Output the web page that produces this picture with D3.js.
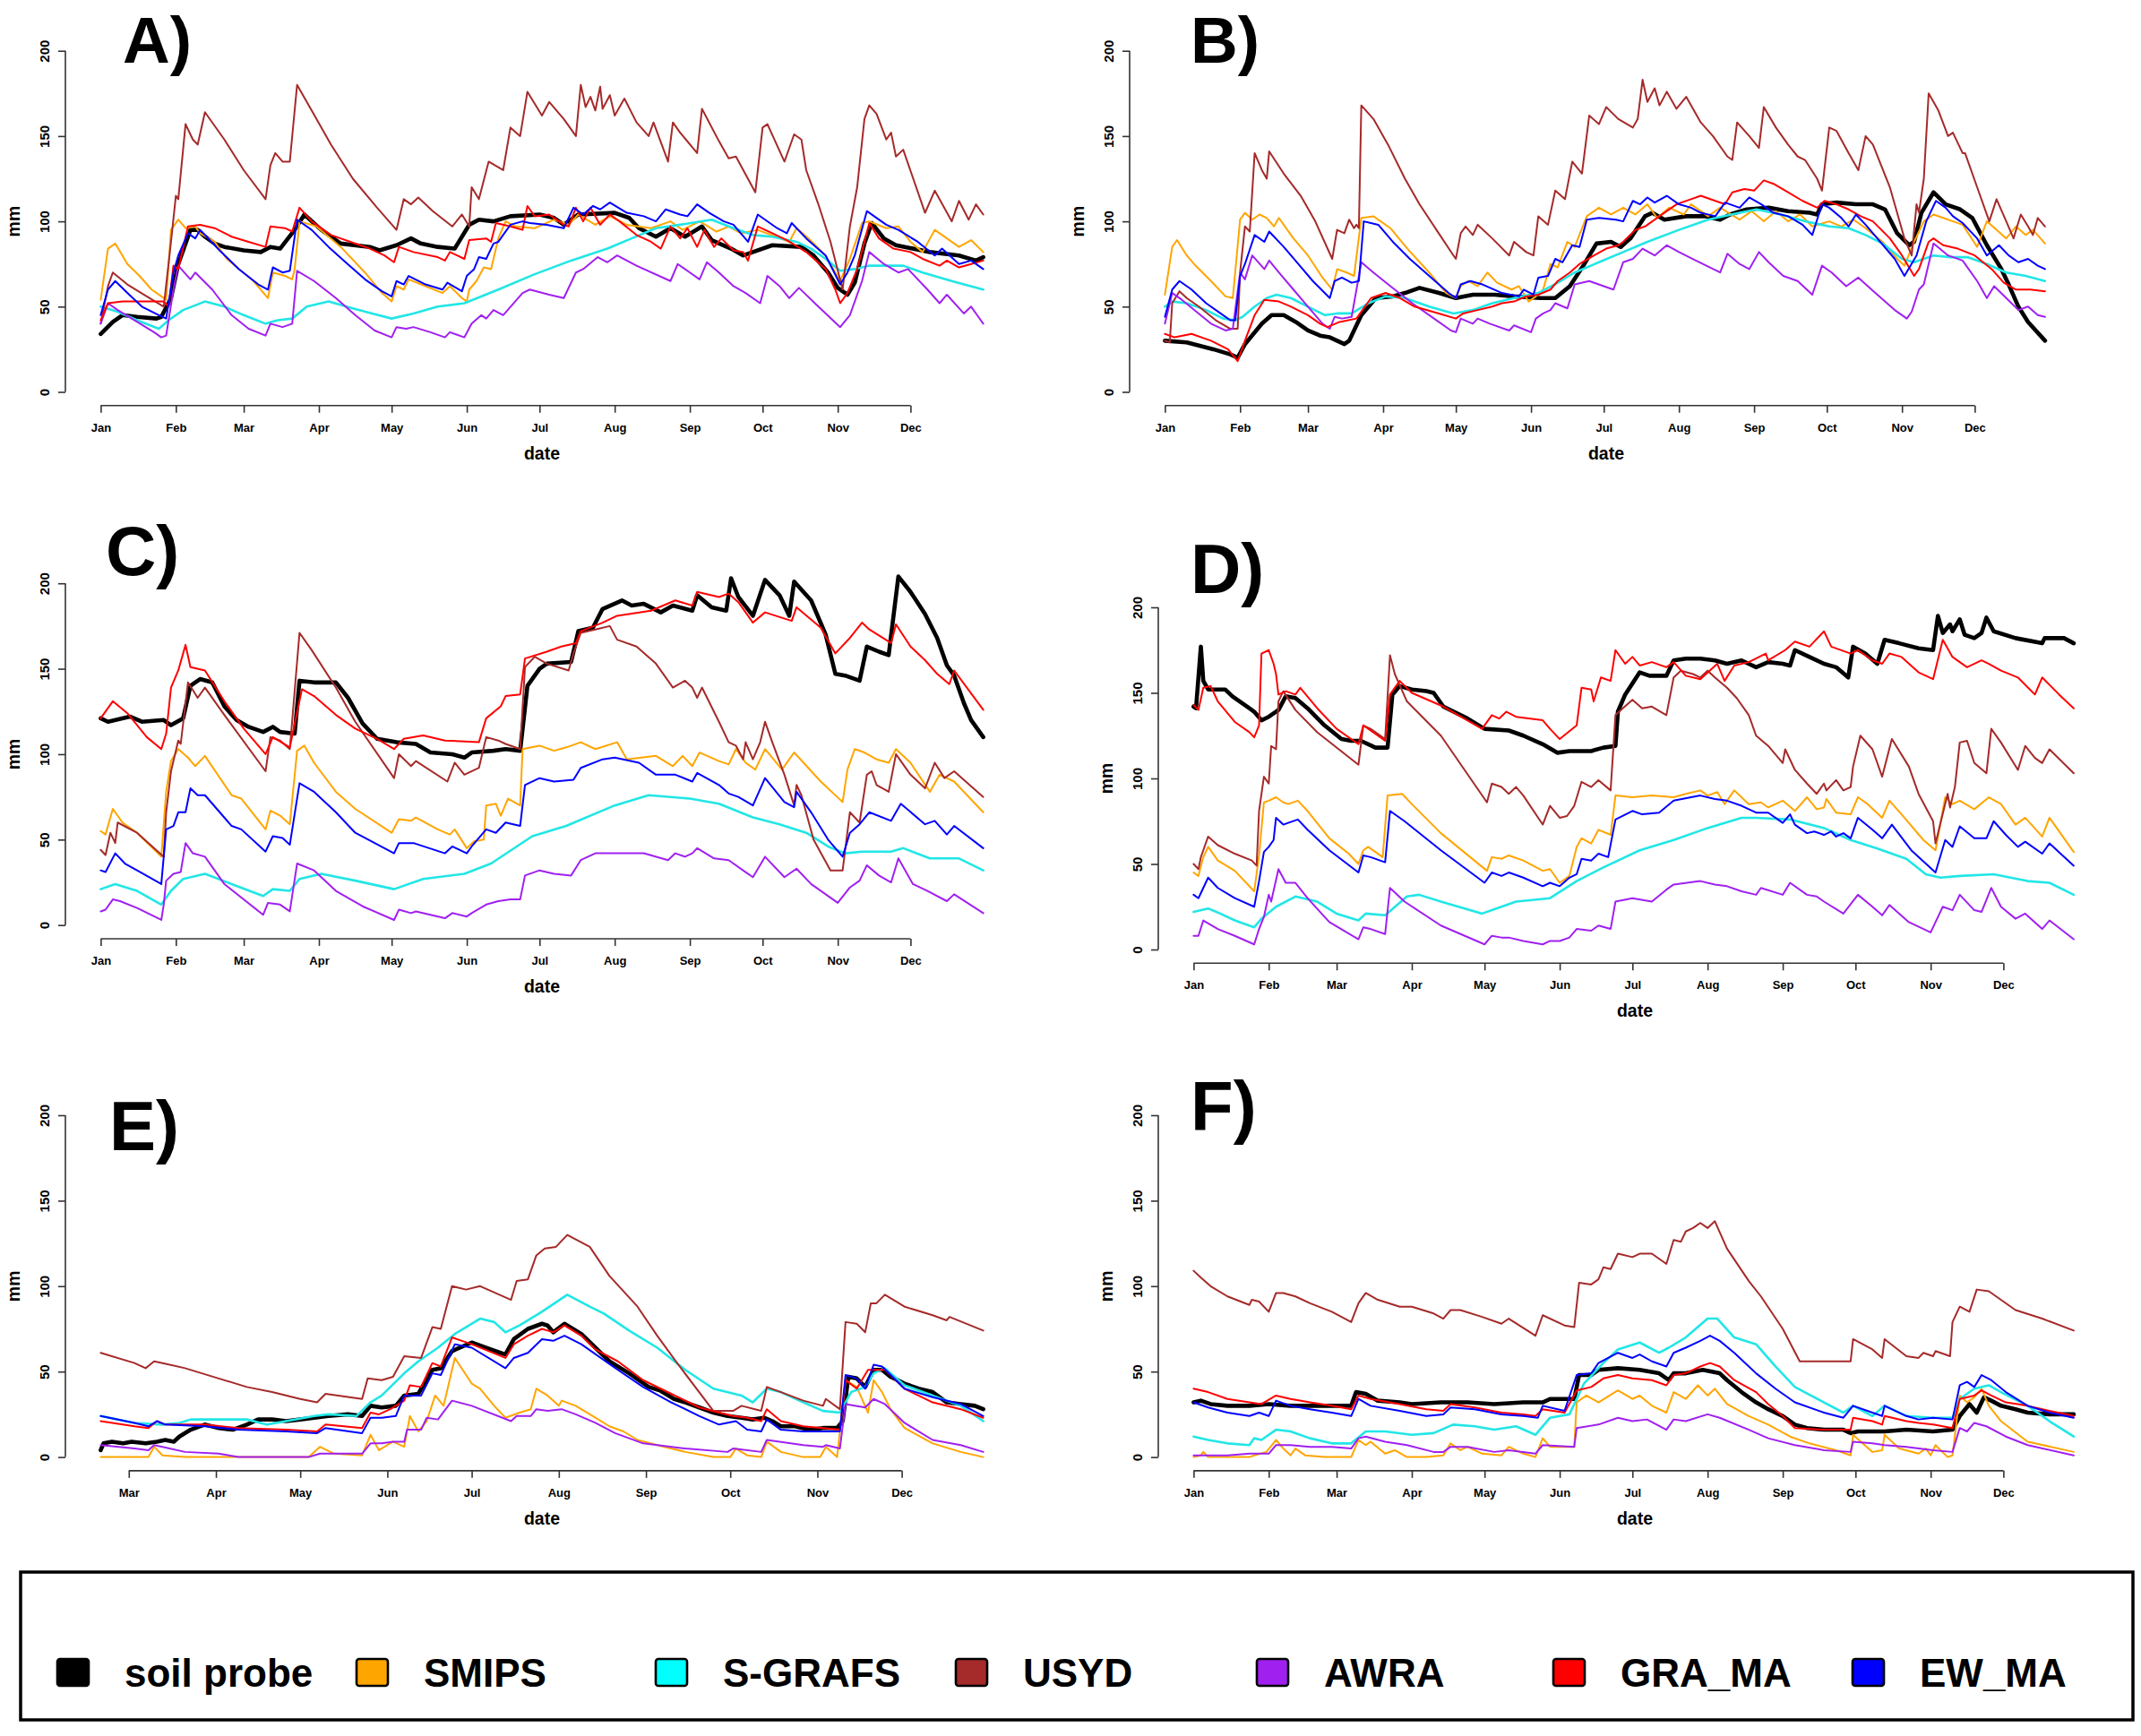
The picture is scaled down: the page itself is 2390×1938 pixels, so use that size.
<!DOCTYPE html>
<html>
<head>
<meta charset="utf-8">
<script src="https://cdn.jsdelivr.net/npm/d3@7"></script>
<style>
  body { margin: 0; background: #fff; }
  text { font-family: "Liberation Sans", Arial, Helvetica, sans-serif; }
</style>
</head>
<body>
<div id="chart"></div>
<script>
// ---- series names / colours / tick values ----
const seriesNames = ["soil probe", "SMIPS", "S-GRAFS", "USYD", "AWRA", "GRA_MA", "EW_MA"];
const seriesColors = ["#000000", "#FFA500", "#22E6E6", "#A52A2A", "#A020F0", "#FF0000", "#0000FF"];
const yTicks = [0, 50, 100, 150, 200];

// ---- values: [day of year, mm] ----
// Panel A
const probeA = [[1,34],[6,41],[10,45],[16,44],[24,43],[26,44],[30,55],[33,75],[38,95],[41,95],[44,91],[48,87],[52,85],[60,83],[67,82],[71,85],[75,84],[81,95],[85,104],[92,95],[100,87],[112,85],[116,83],[123,86],[129,90],[133,87],[140,85],[147,84],[153,98],[157,101],[163,100],[170,103],[182,104],[188,102],[192,98],[198,104],[213,105],[219,102],[223,96],[230,91],[236,96],[242,91],[249,97],[253,89],[261,84],[266,80],[270,82],[278,86],[290,85],[295,80],[301,70],[305,61],[309,57],[312,64],[316,87],[319,99],[324,90],[329,86],[343,82],[355,80],[362,77],[365,79]];
const smipsA = [[1,54],[4,84],[7,87],[12,75],[17,68],[22,60],[28,54],[30,95],[33,101],[36,96],[40,97],[42,93],[48,88],[53,78],[64,65],[70,55],[72,70],[77,68],[80,66],[81,72],[83,100],[90,97],[100,85],[110,70],[117,58],[121,53],[123,62],[126,60],[128,66],[135,62],[142,58],[145,62],[150,55],[152,53],[153,60],[156,65],[159,73],[162,72],[165,90],[168,100],[172,97],[180,96],[188,101],[194,98],[198,104],[205,98],[211,103],[218,98],[228,96],[236,100],[241,95],[248,100],[255,94],[260,97],[265,93],[272,95],[285,88],[288,96],[293,90],[300,80],[304,70],[306,65],[310,78],[315,99],[318,100],[325,96],[330,97],[335,88],[340,82],[345,95],[350,90],[355,85],[360,89],[365,82]];
const sgrafsA = [[1,50],[8,47],[16,42],[25,37],[29,42],[35,48],[44,53],[52,50],[60,45],[69,40],[74,42],[80,43],[86,50],[95,53],[105,49],[113,46],[121,43],[130,46],[140,50],[151,52],[165,60],[180,69],[195,77],[210,84],[220,90],[230,96],[240,98],[253,101],[262,96],[270,92],[278,91],[288,88],[294,84],[300,78],[306,71],[312,72],[318,74],[332,74],[340,70],[352,65],[365,60]];
const usydA = [[1,40],[4,62],[6,70],[12,63],[20,56],[27,50],[30,88],[32,115],[33,113],[36,157],[39,148],[41,145],[44,164],[52,148],[60,130],[69,113],[71,133],[73,140],[76,135],[79,135],[82,180],[88,165],[96,145],[105,125],[115,108],[123,95],[126,113],[129,110],[132,114],[138,106],[146,97],[150,104],[153,97],[154,120],[157,113],[161,135],[167,130],[170,155],[174,150],[177,176],[183,162],[186,170],[192,160],[197,150],[199,180],[201,167],[203,173],[205,165],[207,179],[208,166],[211,174],[213,162],[217,172],[222,158],[227,150],[229,158],[235,135],[237,158],[240,152],[247,140],[249,166],[256,147],[260,137],[263,138],[271,117],[274,155],[276,157],[283,135],[287,151],[290,148],[292,130],[297,110],[302,88],[307,60],[310,97],[313,120],[316,160],[318,168],[321,163],[325,148],[327,152],[329,138],[332,142],[341,105],[345,118],[352,100],[355,112],[359,101],[362,110],[365,104]];
const awraA = [[1,40],[4,52],[8,48],[15,42],[23,35],[26,32],[28,33],[31,60],[33,74],[38,66],[40,70],[47,60],[55,45],[62,37],[69,33],[71,40],[76,38],[80,40],[82,71],[89,65],[98,55],[106,45],[114,36],[121,32],[123,38],[127,37],[130,38],[137,35],[143,32],[145,35],[151,32],[154,40],[158,45],[160,43],[163,48],[167,45],[175,58],[178,60],[186,57],[192,55],[197,70],[200,72],[206,79],[210,76],[214,80],[222,74],[236,65],[239,75],[244,70],[248,66],[251,76],[256,70],[262,62],[267,58],[273,52],[276,68],[281,62],[285,55],[289,61],[297,50],[306,38],[310,45],[315,65],[318,82],[324,75],[330,70],[334,72],[342,60],[347,52],[350,57],[357,46],[360,50],[363,44],[365,40]];
const graA = [[1,42],[4,52],[10,53],[20,53],[27,53],[29,50],[31,74],[33,72],[37,97],[42,98],[48,96],[55,91],[62,88],[69,85],[71,97],[77,96],[80,94],[83,108],[88,100],[96,92],[104,88],[112,84],[118,80],[122,76],[124,85],[130,82],[140,79],[143,77],[145,82],[148,80],[151,78],[153,89],[160,90],[162,88],[164,99],[170,97],[175,95],[177,109],[180,103],[186,104],[192,98],[194,97],[197,108],[200,100],[203,108],[207,98],[211,104],[215,100],[222,92],[228,88],[232,84],[236,97],[240,90],[243,96],[247,85],[250,95],[254,85],[257,90],[262,83],[266,82],[268,77],[272,97],[278,93],[284,89],[292,82],[300,72],[304,60],[306,52],[309,58],[313,72],[316,88],[318,99],[322,90],[328,84],[335,82],[340,78],[347,74],[350,77],[355,73],[360,75],[365,77]];
const ewA = [[1,45],[4,60],[7,65],[12,58],[18,50],[25,45],[28,43],[31,70],[33,80],[37,93],[40,90],[42,95],[50,83],[58,72],[66,63],[70,60],[72,73],[76,70],[79,71],[82,101],[88,95],[95,85],[102,76],[110,66],[117,59],[121,56],[123,65],[126,63],[128,68],[135,63],[142,60],[144,64],[150,59],[152,68],[155,72],[157,79],[160,78],[163,87],[165,88],[170,98],[175,100],[178,99],[185,98],[192,96],[196,108],[200,104],[204,109],[207,107],[211,111],[218,105],[225,103],[230,100],[234,107],[240,104],[243,103],[247,110],[252,105],[258,100],[262,98],[268,88],[272,104],[280,96],[284,93],[286,99],[292,90],[300,80],[306,63],[309,70],[312,80],[317,106],[320,103],[325,98],[330,95],[338,88],[345,80],[348,84],[355,75],[360,77],[365,72]];

// Panel B
const probeB = [[1,30],[10,29],[21,25],[28,22],[31,20],[34,28],[41,40],[45,45],[50,45],[55,41],[60,36],[65,33],[69,32],[75,28],[77,30],[82,45],[88,55],[95,56],[100,58],[106,61],[114,58],[121,55],[128,57],[137,57],[145,56],[156,55],[162,55],[168,62],[174,75],[179,87],[185,88],[189,85],[193,90],[199,103],[202,105],[207,101],[216,103],[224,103],[230,101],[234,104],[241,107],[250,108],[258,106],[267,105],[270,104],[272,110],[278,111],[286,110],[293,110],[298,107],[303,93],[308,86],[310,88],[313,105],[318,117],[323,110],[329,107],[334,102],[340,86],[346,72],[349,63],[353,50],[357,41],[364,30]];
const smipsB = [[1,57],[4,85],[6,89],[10,80],[13,75],[20,65],[26,56],[29,55],[32,101],[34,105],[37,101],[40,104],[43,102],[46,97],[48,102],[54,90],[60,80],[66,67],[70,60],[72,72],[76,70],[79,68],[82,102],[87,103],[94,96],[101,84],[110,70],[117,58],[121,55],[123,62],[126,65],[130,62],[134,70],[138,64],[144,60],[147,62],[151,53],[154,56],[157,60],[160,75],[163,73],[167,88],[170,85],[175,103],[180,108],[185,104],[190,108],[195,104],[200,110],[204,102],[209,108],[215,104],[218,110],[225,103],[230,108],[238,101],[243,106],[248,100],[253,106],[258,100],[263,104],[268,97],[275,100],[280,97],[285,101],[290,96],[297,88],[303,78],[306,74],[310,88],[314,100],[318,104],[322,102],[326,100],[330,98],[336,85],[340,100],[344,95],[348,90],[352,97],[356,92],[359,95],[364,87]];
const sgrafsB = [[1,50],[4,53],[10,52],[18,48],[25,43],[30,42],[33,44],[38,50],[43,55],[47,57],[53,55],[60,50],[67,45],[72,46],[78,46],[85,52],[92,56],[100,55],[110,50],[120,46],[128,48],[136,52],[145,55],[155,58],[163,64],[170,70],[180,76],[190,82],[200,88],[213,95],[225,101],[238,105],[245,107],[255,104],[265,100],[275,97],[283,96],[290,92],[297,87],[305,78],[310,76],[318,80],[325,79],[332,79],[340,75],[348,70],[356,68],[364,65]];
const usydB = [[1,30],[3,29],[4,52],[7,59],[10,55],[15,50],[22,42],[28,37],[31,37],[32,70],[34,97],[36,94],[38,140],[41,130],[43,125],[44,141],[50,128],[57,115],[63,100],[70,78],[72,95],[75,93],[77,101],[79,96],[80,98],[81,96],[82,168],[87,160],[93,145],[100,125],[106,110],[113,95],[120,80],[121,78],[123,93],[125,97],[128,92],[130,98],[136,90],[143,80],[145,88],[150,82],[153,80],[155,103],[159,98],[162,118],[166,113],[169,135],[173,128],[176,162],[180,157],[183,167],[188,160],[194,155],[196,160],[198,183],[200,170],[203,178],[205,168],[208,176],[212,166],[216,173],[222,158],[227,150],[233,138],[235,136],[237,158],[242,150],[246,143],[248,167],[253,155],[258,145],[262,138],[265,136],[270,125],[272,118],[275,155],[278,153],[283,140],[285,135],[287,130],[290,150],[293,145],[300,120],[306,90],[309,80],[311,110],[312,105],[314,125],[316,175],[320,165],[324,150],[326,152],[330,140],[331,140],[336,120],[341,100],[344,113],[348,100],[351,90],[354,104],[357,97],[359,92],[361,102],[364,97]];
const awraB = [[1,40],[4,58],[8,54],[14,47],[20,40],[26,36],[29,37],[32,70],[34,66],[37,80],[42,72],[44,77],[48,70],[54,60],[60,50],[66,40],[69,37],[71,44],[74,43],[78,44],[82,76],[87,70],[94,62],[103,52],[112,43],[119,36],[121,35],[123,43],[128,40],[130,43],[135,40],[143,36],[145,39],[152,35],[154,43],[157,46],[160,48],[162,52],[167,49],[170,63],[176,65],[182,62],[186,60],[190,76],[194,78],[198,84],[203,80],[208,86],[213,82],[220,77],[230,70],[233,81],[238,75],[242,72],[246,82],[250,76],[256,68],[262,65],[268,57],[272,74],[276,70],[282,62],[287,67],[294,58],[302,48],[307,43],[309,47],[312,60],[314,63],[318,87],[324,80],[330,77],[336,65],[340,55],[343,62],[348,55],[353,48],[357,50],[361,45],[364,44]];
const graB = [[1,34],[5,32],[12,34],[20,30],[27,25],[31,18],[34,30],[38,45],[42,54],[48,53],[53,50],[60,45],[65,40],[68,38],[73,41],[80,43],[86,55],[92,58],[98,55],[104,50],[114,46],[121,43],[124,46],[130,48],[136,50],[140,52],[145,53],[150,56],[155,57],[160,60],[163,65],[168,70],[172,75],[178,80],[183,84],[188,86],[190,88],[195,95],[199,97],[202,100],[208,106],[212,110],[218,113],[222,115],[228,112],[232,110],[235,117],[240,119],[244,118],[248,124],[252,122],[258,117],[264,112],[270,108],[273,112],[278,110],[283,107],[288,103],[293,100],[300,90],[305,80],[310,68],[312,72],[316,88],[318,90],[322,86],[328,84],[335,80],[342,72],[347,64],[352,60],[358,60],[364,59]];
const ewB = [[1,44],[4,60],[7,65],[12,60],[18,52],[25,45],[28,42],[30,42],[32,68],[34,75],[38,92],[42,88],[44,94],[50,85],[56,75],[62,65],[69,55],[71,65],[74,67],[78,64],[81,65],[83,100],[89,98],[95,88],[102,78],[110,68],[118,58],[121,55],[123,63],[127,65],[132,63],[140,58],[147,56],[149,60],[153,57],[155,67],[159,68],[162,78],[165,76],[169,86],[172,85],[175,101],[180,102],[187,101],[190,100],[194,112],[197,110],[200,114],[203,111],[208,115],[213,110],[218,108],[222,105],[228,103],[232,111],[238,108],[242,114],[247,110],[252,105],[258,103],[264,98],[268,92],[272,110],[275,108],[280,102],[283,97],[286,104],[290,98],[296,88],[302,78],[306,68],[311,80],[315,100],[319,112],[323,108],[326,103],[330,99],[336,90],[340,80],[345,86],[349,80],[353,76],[357,78],[361,74],[364,72]];

// Panel C
const probeC = [[1,121],[4,119],[13,122],[18,119],[27,120],[30,117],[35,121],[38,140],[42,144],[47,142],[52,128],[57,120],[62,116],[68,113],[72,116],[75,113],[81,112],[83,143],[89,142],[98,142],[103,133],[109,118],[115,109],[123,107],[131,106],[137,101],[146,100],[151,98],[154,101],[163,102],[168,103],[174,102],[177,140],[182,150],[185,153],[195,154],[198,172],[204,174],[208,185],[216,190],[220,187],[225,188],[232,183],[237,187],[245,184],[247,193],[253,186],[259,184],[261,203],[264,192],[270,181],[275,202],[281,193],[285,181],[287,201],[294,190],[300,170],[304,147],[308,146],[314,143],[317,163],[322,160],[326,158],[330,204],[335,195],[341,182],[346,168],[350,152],[353,146],[357,130],[360,120],[365,110]];
const smipsC = [[1,55],[3,53],[6,68],[10,60],[16,54],[26,40],[28,78],[30,96],[33,103],[37,98],[40,93],[44,99],[55,76],[59,74],[69,56],[71,67],[75,64],[79,59],[82,102],[85,105],[89,95],[98,78],[106,68],[121,54],[124,62],[129,61],[131,63],[140,56],[145,53],[147,56],[152,45],[155,49],[159,50],[160,70],[164,71],[166,64],[169,74],[174,70],[175,103],[182,105],[188,102],[193,104],[199,107],[205,103],[214,107],[218,97],[230,99],[237,93],[241,99],[245,93],[248,101],[256,96],[260,94],[263,103],[267,95],[271,91],[275,103],[282,91],[287,101],[298,84],[307,72],[309,91],[312,103],[316,101],[321,97],[326,95],[329,103],[335,95],[343,78],[347,88],[353,84],[365,66]];
const sgrafsC = [[1,21],[7,24],[16,20],[26,12],[30,20],[35,27],[44,30],[55,24],[68,17],[72,21],[79,20],[83,27],[92,30],[106,26],[122,21],[134,27],[151,30],[162,36],[179,52],[193,58],[213,70],[227,76],[244,74],[256,71],[270,63],[281,59],[292,54],[301,46],[308,42],[315,43],[327,43],[332,45],[343,39],[355,39],[365,32]];
const usydC = [[1,44],[3,41],[5,54],[7,48],[8,60],[16,54],[27,40],[28,66],[30,90],[33,108],[34,106],[37,142],[41,133],[44,139],[52,123],[69,90],[71,110],[75,108],[79,103],[83,171],[88,161],[98,139],[106,119],[122,86],[124,100],[129,93],[131,96],[144,84],[147,95],[151,88],[157,92],[160,110],[165,108],[168,106],[174,103],[176,151],[180,157],[185,153],[194,149],[196,159],[199,171],[205,173],[211,175],[214,167],[222,163],[230,153],[237,139],[242,143],[245,139],[247,133],[249,139],[256,119],[260,107],[263,105],[266,97],[267,107],[270,97],[273,107],[275,119],[278,107],[283,88],[287,70],[288,82],[290,76],[295,50],[302,32],[307,32],[310,66],[314,60],[317,88],[319,90],[321,82],[326,78],[329,100],[335,88],[341,80],[345,95],[349,86],[353,90],[365,75]];
const awraC = [[1,8],[3,9],[6,15],[9,14],[16,10],[26,3],[27,12],[28,26],[31,30],[34,31],[36,48],[39,42],[44,40],[52,24],[68,6],[70,13],[75,12],[79,8],[82,36],[89,32],[98,20],[109,11],[122,3],[124,9],[129,7],[131,8],[143,4],[146,7],[152,5],[154,7],[160,12],[165,14],[170,15],[174,15],[176,29],[182,32],[188,30],[195,29],[199,38],[205,42],[214,42],[225,42],[235,38],[238,42],[242,40],[245,42],[247,45],[254,39],[260,38],[267,31],[270,28],[275,40],[283,28],[288,33],[294,24],[305,13],[310,22],[314,26],[317,35],[322,29],[327,25],[330,39],[336,24],[342,20],[350,14],[353,18],[365,7]];
const graC = [[1,121],[6,131],[12,124],[20,110],[26,103],[28,112],[30,139],[33,149],[36,164],[38,151],[44,149],[52,131],[60,115],[69,100],[72,110],[79,104],[84,138],[89,134],[98,123],[106,115],[115,109],[122,103],[126,109],[134,111],[143,108],[157,107],[160,121],[166,128],[168,134],[174,135],[176,156],[185,160],[191,163],[197,165],[199,172],[208,177],[214,181],[228,184],[238,190],[245,187],[247,195],[256,192],[260,194],[264,189],[270,177],[275,183],[286,178],[288,186],[298,174],[304,159],[310,168],[315,177],[318,173],[327,165],[329,176],[335,163],[341,155],[346,147],[351,141],[353,149],[365,126]];
const ewC = [[1,32],[3,31],[7,42],[11,36],[16,32],[26,24],[28,56],[31,58],[33,66],[36,66],[38,80],[41,76],[44,76],[55,58],[59,56],[69,43],[72,52],[76,51],[79,47],[83,83],[89,78],[98,66],[106,54],[122,42],[124,48],[130,48],[143,42],[146,46],[152,42],[154,46],[160,56],[164,54],[168,60],[174,58],[176,82],[182,86],[188,84],[196,85],[199,92],[208,97],[213,98],[223,95],[230,88],[238,88],[245,84],[247,89],[256,82],[260,77],[264,75],[270,70],[275,86],[283,72],[287,69],[288,78],[294,66],[301,50],[307,40],[310,54],[314,59],[318,66],[327,61],[331,71],[341,59],[345,61],[350,53],[353,58],[365,45]];

// Panel D
const probeD = [[1,142],[2,141],[4,177],[5,157],[7,152],[14,152],[17,148],[24,141],[26,139],[29,134],[32,136],[36,140],[39,148],[43,147],[48,141],[55,131],[62,123],[66,122],[70,122],[76,118],[81,118],[83,149],[86,154],[91,152],[97,151],[100,150],[104,142],[114,135],[121,129],[131,128],[137,125],[145,120],[151,115],[156,116],[165,116],[170,118],[175,119],[176,139],[179,149],[185,162],[189,160],[196,160],[199,169],[204,170],[210,170],[216,169],[221,167],[227,169],[233,165],[238,168],[244,167],[247,166],[249,175],[255,171],[261,167],[266,165],[271,159],[273,177],[278,173],[283,167],[286,181],[292,179],[300,176],[306,175],[308,195],[310,185],[313,190],[314,186],[317,193],[319,184],[323,182],[326,185],[328,194],[331,186],[340,182],[351,179],[352,182],[360,182],[364,179]];
const smipsD = [[1,45],[3,43],[5,54],[7,60],[11,52],[18,46],[26,34],[28,55],[30,86],[32,87],[35,89],[38,86],[40,85],[44,87],[48,81],[57,65],[65,56],[69,50],[71,58],[73,60],[79,54],[81,90],[87,91],[91,85],[103,68],[122,46],[124,54],[128,53],[131,55],[137,52],[145,46],[148,47],[152,39],[156,43],[159,60],[161,65],[165,62],[168,70],[173,67],[175,90],[182,89],[190,90],[199,89],[204,91],[210,93],[213,90],[217,92],[220,85],[224,93],[230,85],[235,86],[238,83],[244,87],[249,81],[254,89],[258,82],[261,83],[262,88],[266,80],[272,79],[275,89],[279,85],[285,77],[288,87],[293,79],[302,64],[307,58],[311,89],[314,85],[317,87],[323,82],[329,89],[334,85],[340,73],[344,77],[351,66],[354,77],[364,57]];
const sgrafsD = [[1,22],[7,24],[12,21],[18,17],[26,13],[29,18],[35,25],[43,31],[52,28],[60,21],[69,17],[72,21],[80,20],[89,31],[94,32],[103,28],[120,21],[134,28],[148,30],[159,40],[170,48],[185,58],[199,64],[213,71],[227,77],[233,77],[247,76],[261,71],[272,64],[283,59],[295,53],[303,44],[309,42],[317,43],[331,44],[345,40],[354,39],[364,32]];
const usydD = [[1,50],[3,47],[4,54],[5,58],[7,66],[11,61],[18,56],[25,52],[27,49],[28,81],[30,101],[32,97],[33,119],[35,117],[36,145],[38,151],[43,140],[52,127],[69,108],[71,131],[74,129],[80,123],[82,172],[84,161],[89,145],[103,125],[122,86],[124,97],[128,95],[131,91],[134,95],[137,90],[145,73],[148,84],[152,77],[155,78],[158,84],[161,98],[165,95],[168,99],[173,93],[175,137],[178,141],[182,146],[186,141],[190,142],[196,137],[199,159],[202,163],[207,161],[210,159],[213,163],[216,159],[221,153],[225,147],[230,137],[233,125],[238,119],[244,109],[245,117],[249,105],[254,97],[258,91],[261,97],[262,93],[266,99],[269,93],[272,95],[273,107],[276,125],[281,117],[285,101],[289,123],[296,107],[300,91],[306,75],[307,62],[312,91],[313,83],[315,95],[317,121],[320,122],[323,109],[328,103],[330,129],[334,121],[341,105],[344,119],[348,112],[351,109],[354,117],[364,103]];
const awraD = [[1,8],[3,8],[5,17],[11,12],[18,8],[26,3],[28,12],[30,19],[32,32],[33,28],[36,47],[39,39],[43,39],[48,30],[57,16],[69,6],[71,13],[74,12],[80,9],[82,36],[88,28],[103,14],[121,3],[124,8],[128,7],[131,7],[137,5],[145,3],[148,5],[152,5],[156,7],[159,12],[165,11],[168,14],[173,12],[175,28],[182,30],[190,28],[196,35],[199,38],[210,40],[216,38],[221,37],[227,34],[233,32],[235,36],[244,32],[247,39],[254,32],[258,31],[261,28],[269,21],[275,32],[281,25],[285,20],[288,26],[296,16],[305,10],[310,25],[314,23],[317,32],[323,23],[326,22],[330,36],[334,25],[340,18],[344,21],[351,12],[354,17],[364,6]];
const graD = [[1,143],[3,140],[5,153],[8,154],[11,145],[18,133],[24,127],[26,124],[28,131],[29,173],[32,175],[34,167],[35,161],[36,149],[39,151],[43,149],[45,153],[52,141],[60,129],[69,120],[71,131],[74,128],[80,122],[82,149],[86,157],[91,150],[104,142],[120,129],[124,137],[127,135],[130,139],[134,136],[145,134],[148,129],[152,123],[159,131],[161,153],[165,152],[166,145],[169,159],[173,157],[175,175],[179,167],[182,171],[185,166],[190,168],[196,165],[199,168],[204,160],[210,158],[217,167],[220,157],[224,166],[230,168],[237,173],[238,169],[245,175],[249,180],[255,177],[261,186],[264,177],[272,173],[275,175],[281,169],[285,167],[288,173],[293,171],[300,162],[306,158],[310,181],[314,171],[320,165],[326,169],[329,167],[334,163],[341,159],[348,149],[351,159],[358,149],[364,141]];
const ewD = [[1,32],[3,30],[7,42],[11,36],[18,30],[26,25],[28,40],[30,57],[32,60],[34,64],[35,77],[38,73],[40,74],[44,76],[48,70],[57,58],[69,45],[71,55],[74,54],[80,51],[82,81],[88,75],[103,58],[121,39],[124,45],[128,43],[131,45],[137,42],[145,37],[148,39],[152,37],[156,42],[159,44],[161,53],[165,52],[168,56],[172,54],[175,76],[182,81],[186,79],[193,80],[199,87],[210,90],[216,88],[221,87],[227,84],[233,80],[238,80],[244,74],[247,79],[249,73],[254,68],[257,69],[261,67],[264,69],[266,66],[269,68],[272,65],[275,77],[281,70],[285,65],[289,73],[297,58],[307,45],[311,64],[314,60],[317,72],[323,65],[328,65],[331,75],[336,67],[341,60],[344,63],[351,56],[354,62],[364,49]];

// Panel E (starts late February)
const probeE = [[50,4],[51,8],[54,9],[58,8],[61,9],[66,8],[70,9],[73,10],[76,9],[78,12],[82,16],[87,19],[92,17],[97,16],[102,19],[106,22],[111,22],[116,21],[121,22],[126,23],[131,24],[138,25],[143,24],[146,30],[150,29],[155,30],[158,36],[163,37],[168,51],[171,52],[175,62],[182,67],[187,64],[194,60],[197,69],[202,75],[207,78],[209,77],[211,73],[215,78],[221,72],[226,64],[231,56],[238,49],[245,41],[249,39],[254,34],[258,32],[263,29],[268,26],[273,24],[278,23],[282,22],[286,23],[289,21],[292,18],[297,18],[302,16],[307,17],[312,17],[314,21],[316,47],[319,46],[322,41],[325,51],[328,51],[331,47],[336,43],[341,40],[346,38],[351,32],[356,31],[361,30],[364,28]];
const smipsE = [[50,0],[62,0],[67,0],[69,6],[72,1],[80,0],[99,0],[124,0],[128,6],[133,2],[143,1],[146,13],[149,4],[154,9],[158,6],[160,24],[163,15],[166,21],[169,36],[172,30],[176,58],[182,43],[185,40],[190,30],[194,23],[199,26],[203,28],[205,40],[209,36],[213,30],[214,33],[219,30],[226,23],[231,18],[236,15],[241,10],[248,7],[258,3],[268,0],[274,0],[276,5],[280,1],[285,0],[287,9],[292,3],[300,0],[306,0],[308,6],[312,0],[315,45],[319,41],[323,26],[325,45],[328,38],[331,28],[336,17],[346,8],[356,3],[364,0]];
const sgrafsE = [[50,24],[62,20],[72,19],[78,20],[82,22],[94,22],[102,22],[109,19],[116,21],[126,24],[131,25],[141,24],[146,32],[150,36],[158,49],[163,56],[170,64],[176,72],[185,81],[190,79],[194,73],[199,77],[207,85],[216,95],[224,88],[229,84],[238,74],[248,64],[258,51],[268,40],[278,36],[282,32],[287,40],[292,38],[300,32],[307,27],[313,26],[317,38],[322,41],[325,49],[329,52],[336,42],[346,36],[356,30],[364,21]];
const usydE = [[50,61],[62,55],[66,52],[69,56],[72,55],[80,52],[92,46],[102,41],[111,38],[121,34],[127,32],[130,37],[143,34],[145,46],[150,45],[154,47],[158,59],[164,58],[168,76],[171,75],[175,100],[180,98],[185,100],[196,92],[198,103],[202,104],[205,118],[208,122],[212,123],[216,130],[224,123],[231,106],[241,88],[248,71],[256,53],[268,27],[275,27],[278,30],[285,27],[287,41],[292,38],[300,33],[307,30],[308,34],[313,28],[315,79],[319,78],[322,73],[324,90],[326,90],[329,95],[336,88],[346,83],[351,80],[352,82],[364,74]];
const awraE = [[50,7],[62,5],[67,4],[69,7],[72,6],[80,3],[92,2],[99,0],[124,0],[128,2],[143,2],[146,8],[150,8],[154,9],[158,9],[159,16],[164,16],[166,23],[170,22],[175,33],[182,30],[196,21],[198,24],[203,24],[205,28],[209,27],[214,28],[219,25],[226,20],[233,14],[243,8],[258,5],[273,3],[275,5],[285,3],[287,10],[300,7],[307,6],[308,7],[313,5],[315,31],[322,29],[325,34],[329,31],[336,20],[346,10],[356,7],[364,3]];
const graE = [[50,21],[62,18],[67,17],[70,21],[73,19],[87,19],[99,17],[116,16],[127,15],[130,19],[143,17],[146,26],[149,25],[153,28],[158,33],[160,42],[164,41],[168,55],[171,53],[175,70],[182,66],[194,58],[197,66],[202,71],[207,75],[209,74],[211,73],[215,77],[221,71],[226,63],[234,56],[243,45],[253,37],[263,29],[270,26],[275,24],[280,23],[285,21],[287,28],[292,21],[300,18],[307,17],[313,16],[315,45],[319,40],[323,51],[329,51],[336,40],[346,32],[356,28],[364,23]];
const ewE = [[50,24],[62,20],[67,18],[70,21],[73,19],[87,18],[99,16],[116,15],[127,14],[130,17],[143,14],[146,23],[150,23],[155,24],[158,36],[164,36],[168,49],[171,48],[176,66],[182,64],[194,52],[197,58],[202,61],[207,69],[211,68],[215,71],[221,66],[234,51],[243,41],[253,32],[263,24],[270,19],[276,21],[280,16],[285,15],[287,22],[292,16],[300,15],[313,15],[315,48],[319,46],[322,40],[325,54],[328,53],[336,40],[346,35],[356,31],[364,24]];

// Panel F
const probeF = [[1,32],[4,33],[8,31],[15,30],[24,30],[32,31],[41,30],[49,30],[58,30],[66,30],[68,38],[72,37],[77,33],[86,32],[91,31],[103,32],[114,32],[125,31],[137,32],[145,32],[148,34],[156,34],[158,34],[160,48],[165,48],[168,51],[176,52],[185,51],[193,49],[197,45],[199,49],[204,49],[211,51],[218,49],[221,45],[227,38],[233,32],[238,28],[244,24],[249,19],[254,17],[261,16],[269,16],[272,14],[275,15],[286,15],[295,16],[306,15],[314,16],[317,24],[321,31],[324,26],[327,35],[330,33],[334,30],[340,28],[345,26],[354,25],[364,25]];
const smipsF = [[1,0],[4,1],[5,3],[7,0],[15,0],[24,0],[26,1],[31,3],[35,10],[38,5],[41,1],[43,5],[47,1],[55,0],[66,0],[69,10],[72,7],[74,9],[80,2],[84,4],[89,0],[97,0],[104,1],[107,8],[111,4],[114,6],[120,2],[128,1],[131,6],[137,2],[142,0],[145,11],[148,6],[156,6],[158,6],[159,32],[163,36],[168,32],[176,39],[182,34],[185,36],[190,30],[196,26],[199,38],[204,34],[209,42],[213,36],[216,40],[221,31],[230,24],[238,19],[247,12],[255,8],[266,4],[272,1],[273,13],[281,3],[285,4],[286,13],[292,5],[300,2],[303,5],[305,1],[307,7],[312,0],[314,1],[317,36],[320,32],[323,35],[326,40],[329,30],[334,21],[345,9],[364,3]];
const sgrafsF = [[1,12],[7,10],[15,8],[24,7],[26,11],[29,10],[35,16],[41,15],[49,11],[58,8],[66,8],[72,15],[80,15],[91,13],[100,14],[108,19],[117,18],[125,16],[134,18],[142,13],[148,23],[156,25],[162,43],[170,55],[176,63],[185,67],[193,61],[197,64],[204,70],[213,81],[217,81],[224,70],[233,66],[241,53],[249,41],[261,32],[269,26],[273,30],[281,24],[286,30],[295,24],[306,23],[314,23],[317,34],[323,40],[329,42],[334,38],[345,30],[354,21],[364,12]];
const usydF = [[1,109],[4,105],[8,100],[15,94],[24,89],[25,92],[28,91],[32,85],[35,96],[38,96],[43,94],[49,90],[58,85],[66,79],[69,90],[72,96],[77,92],[86,88],[91,88],[100,84],[104,81],[107,86],[111,86],[120,82],[128,78],[131,81],[142,71],[145,83],[154,77],[158,76],[160,102],[165,101],[168,104],[170,111],[173,110],[176,119],[182,117],[185,119],[190,119],[196,113],[199,127],[202,126],[204,132],[207,134],[210,137],[213,134],[216,138],[221,122],[230,103],[235,94],[244,75],[251,56],[261,56],[272,56],[273,69],[281,63],[285,58],[286,69],[295,59],[300,58],[302,61],[306,59],[307,62],[313,59],[314,79],[317,88],[321,85],[324,98],[329,97],[340,86],[351,81],[364,74]];
const awraF = [[1,1],[15,1],[24,2],[29,2],[32,2],[35,7],[41,7],[49,6],[58,6],[66,5],[69,11],[72,12],[80,9],[89,7],[100,3],[104,3],[107,6],[114,6],[125,3],[131,4],[142,2],[145,7],[158,6],[159,17],[168,19],[176,23],[182,21],[188,22],[196,16],[199,22],[204,21],[213,25],[218,23],[230,16],[238,11],[249,7],[261,4],[272,3],[273,9],[281,8],[286,7],[295,6],[306,4],[314,3],[317,17],[320,15],[323,20],[328,18],[336,12],[345,7],[364,1]];
const graF = [[1,40],[7,38],[15,34],[24,32],[29,31],[35,36],[41,34],[49,32],[58,30],[66,28],[69,36],[74,34],[86,31],[97,28],[104,27],[107,31],[117,29],[128,26],[137,25],[142,24],[145,28],[154,26],[159,39],[165,41],[170,46],[176,48],[182,46],[190,45],[196,42],[199,48],[204,49],[210,53],[214,55],[218,53],[224,45],[233,38],[238,31],[244,24],[249,17],[261,16],[272,16],[273,23],[281,21],[285,19],[286,24],[295,21],[300,20],[306,19],[314,17],[317,34],[323,36],[326,39],[330,36],[336,32],[345,30],[354,27],[364,24]];
const ewF = [[1,32],[7,29],[15,26],[24,24],[28,26],[32,24],[35,33],[41,30],[49,28],[58,26],[66,24],[69,34],[74,30],[86,27],[97,24],[104,25],[107,29],[117,28],[128,25],[137,24],[143,23],[145,30],[154,27],[159,48],[165,49],[168,55],[176,61],[182,58],[185,60],[190,56],[196,53],[199,61],[204,64],[210,68],[214,71],[218,68],[224,61],[233,49],[241,40],[249,32],[261,26],[269,23],[273,30],[281,26],[285,24],[286,30],[295,24],[300,22],[306,23],[314,22],[317,42],[320,44],[323,41],[326,48],[330,45],[336,38],[345,30],[354,26],[364,23]];

// ---- layout ----
const width = 2390, height = 1938;
const plotW = 1064;                 // plot region width (R style, 4% padding each side)
const year = 2015;
const toDate = d => new Date(year, 0, d);
const lineWidths = [4.6, 2, 2.6, 2, 2, 2, 2];

const panels = [
  {label: "A)", left: 73,   y0: 437.5,  y200: 56.7,  days: [1, 365],  lx: 137,  ly: 70,   fs: 73, data: [probeA, smipsA, sgrafsA, usydA, awraA, graA, ewA]},
  {label: "B)", left: 1261, y0: 437.5,  y200: 56.7,  days: [1, 365],  lx: 1329, ly: 70,   fs: 73, data: [probeB, smipsB, sgrafsB, usydB, awraB, graB, ewB]},
  {label: "C)", left: 73,   y0: 1032.7, y200: 651.2, days: [1, 365],  lx: 118,  ly: 642,  fs: 78, data: [probeC, smipsC, sgrafsC, usydC, awraC, graC, ewC]},
  {label: "D)", left: 1293, y0: 1060,   y200: 678,   days: [1, 365],  lx: 1329, ly: 662,  fs: 78, data: [probeD, smipsD, sgrafsD, usydD, awraD, graD, ewD]},
  {label: "E)", left: 73,   y0: 1626.6, y200: 1245,  days: [50, 364], lx: 122,  ly: 1284, fs: 78, data: [probeE, smipsE, sgrafsE, usydE, awraE, graE, ewE]},
  {label: "F)", left: 1293, y0: 1626.6, y200: 1245,  days: [1, 365],  lx: 1329, ly: 1262, fs: 78, data: [probeF, smipsF, sgrafsF, usydF, awraF, graF, ewF]}
];

let svg = d3.select("#chart").append("svg")
  .attr("width", width)
  .attr("height", height)
  .style("display", "block")
  .style("background", "#fff");

let monthFmt = d3.timeFormat("%b");

panels.forEach(p => {
  let pad = plotW * 0.04 / 1.08;
  let x = d3.scaleTime().domain(p.days.map(toDate)).range([p.left + pad, p.left + plotW - pad]);
  let y = d3.scaleLinear().domain([0, 200]).range([p.y0, p.y200]);
  let bottom = p.y0 + (p.y0 - p.y200) * 0.04;
  let g = svg.append("g");

  // series lines, soil probe first as in the original plot
  let line = d3.line().x(d => x(toDate(d[0]))).y(d => y(d[1]));
  p.data.forEach((s, i) => {
    g.append("path")
      .attr("d", line(s))
      .attr("fill", "none")
      .attr("stroke", seriesColors[i])
      .attr("stroke-width", lineWidths[i])
      .attr("stroke-linejoin", "round")
      .attr("stroke-linecap", "round");
  });

  // x axis: month ticks, line only between first and last tick
  let months = d3.timeMonth.range(toDate(p.days[0]), toDate(p.days[1]));
  let xAxis = g.append("g")
    .attr("transform", "translate(0," + bottom + ")")
    .call(d3.axisBottom(x).tickValues(months).tickFormat(monthFmt).tickSize(8));
  xAxis.select(".domain")
    .attr("d", "M" + x(months[0]) + ",0H" + x(months[months.length - 1]));
  xAxis.selectAll("line, path").attr("stroke", "#333").attr("stroke-width", 1.6);
  xAxis.selectAll("text")
    .attr("y", 29).attr("dy", null)
    .attr("fill", "#000")
    .style("font-size", "13px").style("font-weight", "bold");

  // y axis: 0..200, labels parallel to the axis
  let yAxis = g.append("g")
    .attr("transform", "translate(" + p.left + ",0)")
    .call(d3.axisLeft(y).tickValues(yTicks).tickSize(8));
  yAxis.select(".domain").attr("d", "M0," + y(0) + "V" + y(200));
  yAxis.selectAll("line, path").attr("stroke", "#333").attr("stroke-width", 1.6);
  yAxis.selectAll("text")
    .attr("x", 0).attr("y", -18).attr("dy", null)
    .attr("transform", "rotate(-90)")
    .attr("text-anchor", "middle")
    .attr("fill", "#000")
    .style("font-size", "15px").style("font-weight", "bold");

  // axis titles
  g.append("text")
    .attr("x", p.left + plotW / 2)
    .attr("y", bottom + 60)
    .attr("text-anchor", "middle")
    .style("font-size", "19.5px").style("font-weight", "bold")
    .text("date");

  g.append("text")
    .attr("transform", "translate(" + (p.left - 51) + "," + ((p.y0 + p.y200) / 2) + ") rotate(-90)")
    .attr("text-anchor", "middle")
    .style("font-size", "19.5px").style("font-weight", "bold")
    .text("mm");

  // panel letter
  g.append("text")
    .attr("x", p.lx)
    .attr("y", p.ly)
    .style("font-size", p.fs + "px").style("font-weight", "bold")
    .text(p.label);
});

// ---- legend ----
const legendX = [63, 397, 731, 1066, 1402, 1733, 2067];

svg.append("rect")
  .attr("x", 23).attr("y", 1755)
  .attr("width", 2358).attr("height", 165)
  .attr("fill", "none")
  .attr("stroke", "#000")
  .attr("stroke-width", 3.5);

let legend = svg.selectAll(".legend")
  .data(seriesNames)
  .join("g")
  .attr("class", "legend")
  .attr("transform", (d, i) => "translate(" + legendX[i] + ",1851)");

legend.append("rect")
  .attr("x", 1).attr("y", 1)
  .attr("width", 35).attr("height", 30)
  .attr("rx", 3)
  .attr("fill", (d, i) => seriesColors[i] === "#22E6E6" ? "#00FFFF" : seriesColors[i])
  .attr("stroke", "#000")
  .attr("stroke-width", 2.6);

legend.append("text")
  .attr("x", 76)
  .attr("y", 32)
  .style("font-size", "44px").style("font-weight", "bold")
  .text(d => d);
</script>
</body>
</html>
